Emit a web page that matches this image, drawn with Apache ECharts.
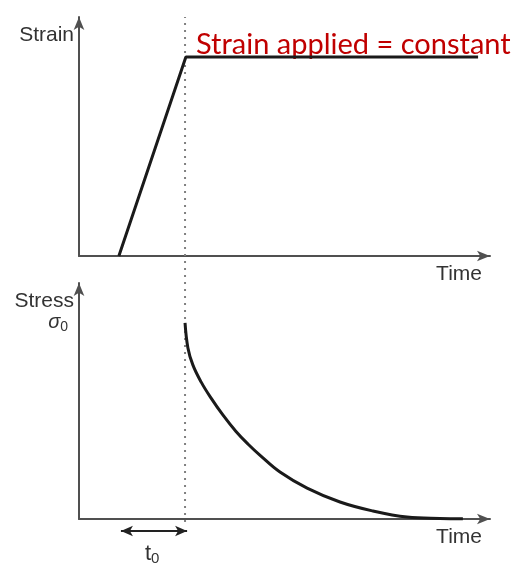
<!DOCTYPE html>
<html>
<head>
<meta charset="utf-8">
<script src="https://cdn.jsdelivr.net/npm/echarts@6/dist/echarts.min.js"></script>
<style>
  html, body { margin: 0; padding: 0; background: #fff; }
  #box { width: 518px; height: 566px; }
</style>
</head>
<body>
<div id="box"></div>
<script>
  // time of the step (dotted line)
  const t0 = 25.8
  // top: strain ramp then constant
  const strainTime = [9.7, 26.0, 97.1]
  const strainValue = [0, 83.3, 83.3]
  // bottom: stress relaxation
  const stressTime = [25.8, 26.5, 27.7, 29.7, 32.1, 35.0, 38.2, 41.1, 44.0, 48.9, 55.5, 63.5, 71.5, 79.8, 87.8, 93.4]
  const stressValue = [83.1, 72.5, 65.3, 58.1, 51.3, 44.1, 37.1, 31.8, 27.1, 19.9, 13.1, 7.2, 3.4, 0.8, 0.2, 0.1]
  const sigma0 = 83.1
  // double arrow under the time axis
  const arrowTime = [10.2, 26.3]
  const arrowLevel = -5.1

  const axisColor = '#505050'
  const textFont = 'Liberation Sans'

  function xAxisOf(i) {
    return {
      gridIndex: i,
      type: 'value',
      min: 0,
      max: 100,
      axisLine: {
        show: true,
        symbol: ['none', 'arrow'],
        symbolSize: [8, 13],
        lineStyle: { color: axisColor, width: 2 }
      },
      axisTick: { show: false },
      axisLabel: { show: false },
      splitLine: { show: false },
      name: 'Time',
      nameLocation: 'end',
      nameGap: -8,
      nameTextStyle: {
        align: 'right',
        verticalAlign: 'top',
        padding: [8, 0, 0, 0],
        fontSize: 21,
        color: '#333',
        fontFamily: textFont
      }
    }
  }

  function yAxisOf(i, name) {
    return {
      gridIndex: i,
      type: 'value',
      min: 0,
      max: 100,
      axisLine: {
        show: true,
        symbol: ['none', 'arrow'],
        symbolSize: [8, 13],
        lineStyle: { color: axisColor, width: 2 }
      },
      axisTick: { show: false },
      axisLabel: { show: false },
      splitLine: { show: false },
      name: name,
      nameLocation: 'end',
      nameGap: -18,
      nameTextStyle: {
        align: 'right',
        verticalAlign: 'middle',
        padding: [0, 5, 0, 0],
        fontSize: 21,
        color: '#333',
        fontFamily: textFont
      }
    }
  }

  const dotted = { color: '#808080', width: 2, type: [2, 5] }

  let bottomY = yAxisOf(1, 'Stress')
  bottomY.axisLabel = {
    show: true,
    customValues: [sigma0],
    margin: 11,
    formatter: () => '{s|σ}{sub|0}',
    rich: {
      s: { fontSize: 20, fontStyle: 'italic', color: '#333', fontFamily: textFont },
      sub: { fontSize: 14, color: '#333', fontFamily: textFont, padding: [8, 0, 0, 0] }
    }
  }

  let myChart = echarts.init(document.getElementById('box'))
  let option = {
    animation: false,
    grid: [
      { left: 79, right: 28, top: 17, height: 239 },
      { left: 79, right: 28, top: 283, height: 236 }
    ],
    xAxis: [xAxisOf(0), xAxisOf(1)],
    yAxis: [yAxisOf(0, 'Strain'), bottomY],
    graphic: [
      {
        type: 'text',
        left: 196,
        top: 30,
        style: {
          text: 'Strain applied = constant',
          fill: '#c00000',
          font: '29px Lato'
        }
      },
      {
        type: 'text',
        left: 145,
        top: 543,
        style: {
          text: '{t|t}{sub|0}',
          rich: {
            t: { fontSize: 22, fill: '#333', fontFamily: textFont },
            sub: { fontSize: 15, fill: '#333', fontFamily: textFont, padding: [9, 0, 0, 0] }
          }
        }
      }
    ],
    series: [
      {
        type: 'line',
        xAxisIndex: 0,
        yAxisIndex: 0,
        clip: false,
        symbol: 'none',
        lineStyle: dotted,
        data: [[t0, -8.8], [t0, 100]]
      },
      {
        type: 'line',
        xAxisIndex: 1,
        yAxisIndex: 1,
        clip: false,
        symbol: 'none',
        lineStyle: dotted,
        data: [[t0, -1.3], [t0, 102.5]]
      },
      {
        name: 'strain',
        type: 'line',
        xAxisIndex: 0,
        yAxisIndex: 0,
        symbol: 'none',
        lineStyle: { color: '#1a1a1a', width: 3 },
        data: strainTime.map((t, i) => [t, strainValue[i]])
      },
      {
        name: 'stress',
        type: 'line',
        xAxisIndex: 1,
        yAxisIndex: 1,
        symbol: 'none',
        smooth: 0.4,
        clip: false,
        lineStyle: { color: '#1a1a1a', width: 3 },
        data: stressTime.map((t, i) => [t, stressValue[i]])
      },
      {
        name: 't0',
        type: 'line',
        xAxisIndex: 1,
        yAxisIndex: 1,
        clip: false,
        symbol: 'arrow',
        symbolSize: [8, 12],
        showAllSymbol: true,
        itemStyle: { color: '#222' },
        lineStyle: { color: '#222', width: 2 },
        data: [
          { value: [arrowTime[0], arrowLevel], symbolRotate: 90 },
          { value: [arrowTime[1], arrowLevel], symbolRotate: -90 }
        ]
      }
    ]
  }
  myChart.setOption(option)
</script>
</body>
</html>
